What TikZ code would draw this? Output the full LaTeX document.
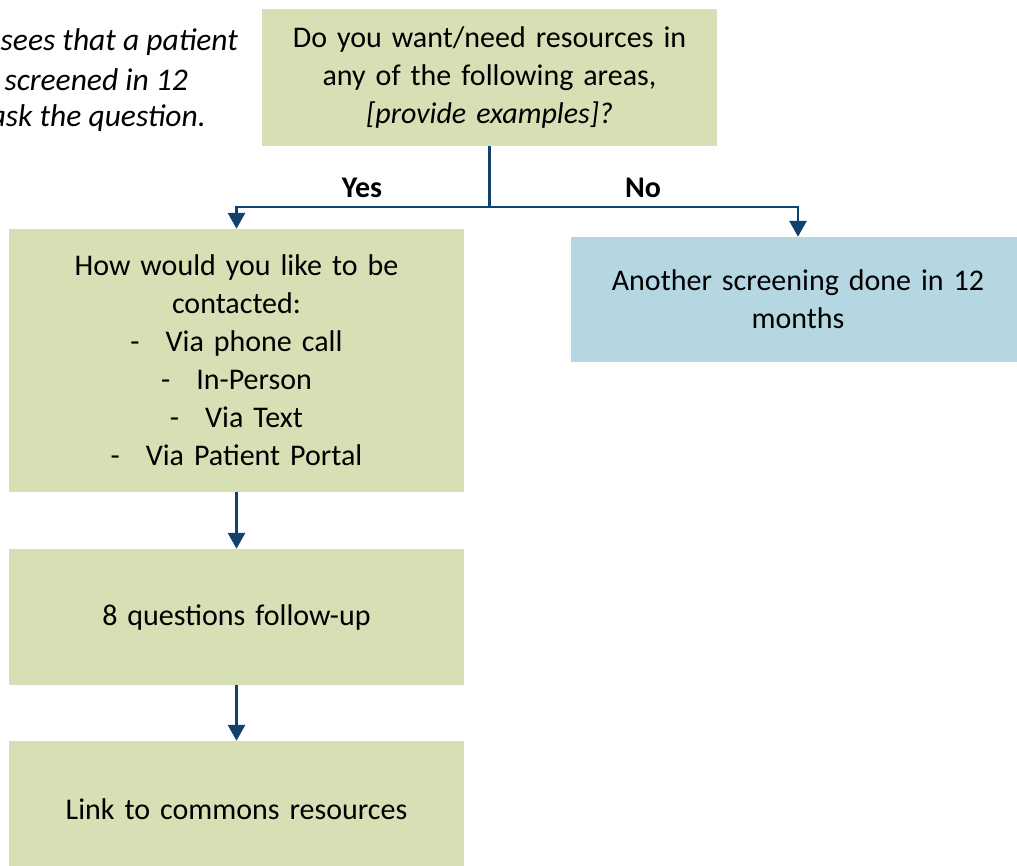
\documentclass[tikz,border=0pt]{standalone}
\usepackage{fontspec}
\setmainfont{Carlito}
\usetikzlibrary{arrows.meta}

\begin{document}
\begin{tikzpicture}[x=1pt, y=-1pt]

% -------------------------------------------------------
% Layout parameters
% -------------------------------------------------------
\def\bw{455}      % box width
\def\xL{236.5}    % centre of the left column
\def\xQ{489.5}    % centre of the question box
\def\xR{798}      % centre of the right box
\def\ySplit{207}  % height of the branching line

% colors
\definecolor{cgreen}{HTML}{D7DFB4}
\definecolor{cblue}{HTML}{B5D7E2}
\definecolor{carrow}{HTML}{10416F}

\tikzset{
  box/.style   = {rectangle, fill=cgreen, minimum width=\bw pt, text width=445pt,
                  align=center, inner sep=0pt, font=\fontsize{30}{38}\selectfont},
  bluebox/.style = {box, fill=cblue},
  arrow/.style = {line width=2.9pt, carrow, -{Triangle[length=16pt, width=17pt]}},
  link/.style  = {line width=2.9pt, carrow},
  note/.style  = {anchor=east, inner sep=0pt, font=\fontsize{31.5}{38}\selectfont\itshape},
  branch/.style = {font=\fontsize{30}{34}\selectfont\bfseries},
}

\useasboundingbox (0,0) rectangle (1017,866);
\clip (0,0) rectangle (1017,866);

%%%%%% NOTE (cut at the left edge)
\node[note] (note1) at (238,42)  {sees that a patient};
\node[note] (note2) at (188,80)  {screened in 12};
\node[note] (note3) at (206,118) {ask the question.};

%%%%%% BOXES
\node[box, minimum height=137pt] (question) at (\xQ,77.5)
  {Do you want/need resources in\\any of the following areas,\\\textit{[provide examples]?}};

\node[box, minimum height=263pt] (contact) at (\xL,360.5)
  {How would you like to be\\contacted:\\
   -\hspace{26pt}Via phone call\\
   -\hspace{26pt}In-Person\\
   -\hspace{26pt}Via Text\\
   -\hspace{26pt}Via Patient Portal};

\node[bluebox, minimum height=125pt] (screening) at (\xR,299.5)
  {Another screening done in 12\\months};

\node[box, minimum height=136pt] (followup) at (\xL,617)
  {8 questions follow-up};

\node[box, minimum height=136pt] (commons) at (\xL,809)
  {Link to commons resources};

%%%%%% CONNECTORS
\coordinate (split) at (\xQ,\ySplit);
\draw[link] (question.south) -- (split);
\draw[arrow] (split) -| (contact.north);
\draw[arrow] (split) -| (screening.north);
\draw[arrow] (contact.south) -- (followup.north);
\draw[arrow] (followup.south) -- (commons.north);

%%% BRANCH LABELS
\node[branch] (yes) at (362,188) {Yes};
\node[branch] (no)  at (643,188) {No};

\end{tikzpicture}
\end{document}
